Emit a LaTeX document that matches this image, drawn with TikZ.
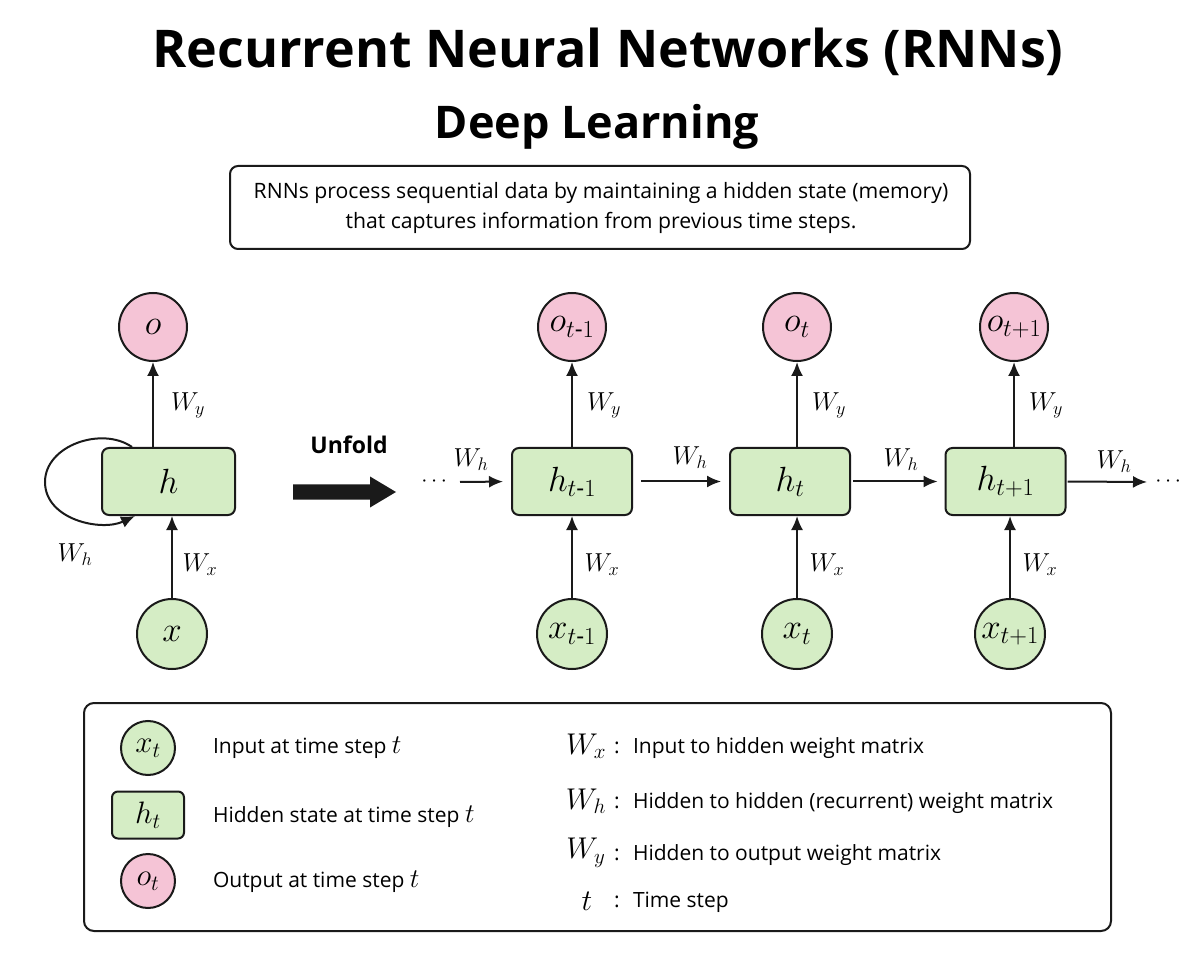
\RequirePackage{fix-cm}
\documentclass[tikz,border=0pt]{standalone}
\usepackage{amsmath}
\usepackage{fontspec}
\setmainfont{Open Sans}
\usetikzlibrary{arrows.meta,calc}
\definecolor{gfill}{HTML}{D5EDC5}
\definecolor{pfill}{HTML}{F5C4D6}
\definecolor{ink}{HTML}{1A1A1A}
\begin{document}
\begin{tikzpicture}[x=1pt,y=-1pt,
  line width=2pt,
  cellbox/.style={draw=ink,fill=gfill,rounded corners=7pt,minimum width=120pt,minimum height=67pt,inner sep=0pt,font=\fontsize{35}{40}\selectfont},
  incirc/.style={circle,draw=ink,fill=gfill,minimum size=70pt,inner sep=0pt,font=\fontsize{35}{40}\selectfont},
  outcirc/.style={circle,draw=ink,fill=pfill,minimum size=68pt,inner sep=0pt,font=\fontsize{35}{40}\selectfont},
  wlab/.style={font=\fontsize{26}{30}\selectfont,inner sep=0pt},
  conn/.style={draw=ink,-{Latex[length=14pt,width=12pt]}},
  legtext/.style={anchor=west,font=\fontsize{21}{25}\selectfont,inner sep=0pt},
  legmath/.style={font=\fontsize{30}{34}\selectfont,inner sep=0pt},
  dots/.style={font=\fontsize{22}{26}\selectfont,inner sep=0pt}
]
\useasboundingbox (0,0) rectangle (1200,957);
\fill[white] (0,0) rectangle (1200,957);

% titles
\node[font=\fontsize{52}{62}\bfseries\selectfont] (title) at (608,52) {Recurrent Neural Networks (RNNs)};
\node[font=\fontsize{45}{54}\bfseries\selectfont] (subtitle) at (597,127) {Deep Learning};

% description
\node[draw=ink,rounded corners=8pt,minimum width=740pt,minimum height=83pt,inner sep=0pt] (desc) at (600,207.5) {};
\node[font=\fontsize{21.2}{30}\selectfont,align=center] (desctext) at (601,208) {RNNs process sequential data by maintaining a hidden state (memory)\\that captures information from previous time steps.};

% folded RNN
\node[cellbox,minimum width=133pt] (h) at (168.5,481.5) {$h$};
\node[outcirc] (o) at (153,327) {$o$};
\node[incirc] (x) at (172,634) {$x$};
\draw[conn] (h.north -| o.south) -- (o.south);
\draw[conn] (x.north) -- (x.north |- h.south);
\coordinate (loopa) at ($(h.north west)+(31,0)$);
\coordinate (loopb) at ($(h.south west)+(34,0)$);
\draw[conn] (loopa) to[out=145,in=90] (45,482) to[out=-90,in=205] (loopb);
\node[wlab] (wyf) at (188,405) {$W_y$};
\node[wlab] (wxf) at (200,565) {$W_x$};
\node[wlab] (whf) at (75,555) {$W_h$};

% unfold arrow
\node[font=\fontsize{23}{27}\bfseries\selectfont] (unfold) at (349,445) {Unfold};
\fill[ink] (293,484.5) -- (370,484.5) -- (370,476.5) -- (396,492) -- (370,507.5) -- (370,499.5) -- (293,499.5) -- cycle;

% unfolded
\node[cellbox] (h1) at (572,481.5) {$h_{t\text{-}1}$};
\node[cellbox] (h2) at (790,481.5) {$h_t$};
\node[cellbox] (h3) at (1005.5,481.5) {$h_{t+1}$};
\node[outcirc] (o1) at (572,327) {$o_{t\text{-}1}$};
\node[outcirc] (o2) at (797,327) {$o_t$};
\node[outcirc] (o3) at (1014,327) {$o_{t+1}$};
\node[incirc] (x1) at (572,634) {$x_{t\text{-}1}$};
\node[incirc] (x2) at (797,634) {$x_t$};
\node[incirc] (x3) at (1010,634) {$x_{t+1}$};

\foreach \i in {1,2,3}{
  \draw[conn] (h\i.north -| o\i.south) -- (o\i.south);
  \draw[conn] (x\i.north) -- (x\i.north |- h\i.south);
}
\node[wlab] (wy1) at (604,405) {$W_y$};
\node[wlab] (wy2) at (829,405) {$W_y$};
\node[wlab] (wy3) at (1046,405) {$W_y$};
\node[wlab] (wx1) at (602,565) {$W_x$};
\node[wlab] (wx2) at (827,565) {$W_x$};
\node[wlab] (wx3) at (1040,565) {$W_x$};

\node[dots] (dl) at (436,482) {$\cdots$};
\coordinate (inl) at (460,482);
\coordinate (outr) at (1147,482);
\node[dots] (dr) at (1170,482) {$\cdots$};
\draw[conn,shorten >=8pt] (inl) -- (h1.west);
\draw[conn,shorten <=8pt,shorten >=8pt] (h1.east) -- (h2.west);
\draw[conn,shorten <=2pt,shorten >=7pt] (h2.east) -- (h3.west);
\draw[conn,shorten <=1pt] (h3.east) -- (outr);
\node[wlab] (wh0) at (471,460) {$W_h$};
\node[wlab] (wh1) at (690,458) {$W_h$};
\node[wlab] (wh2) at (901,460) {$W_h$};
\node[wlab] (wh3) at (1114,462) {$W_h$};

% legend
\node[draw=ink,rounded corners=10pt,minimum width=1027pt,minimum height=228pt,inner sep=0pt] (legend) at (597.5,817) {};
\node[incirc,minimum size=54pt,font=\fontsize{31}{36}\selectfont] (lx) at (148,748) {$x_t$};
\node[cellbox,minimum width=72pt,minimum height=47pt,rounded corners=6pt,font=\fontsize{31}{36}\selectfont] (lh) at (148,815) {$h_t$};
\node[outcirc,minimum size=54pt,font=\fontsize{31}{36}\selectfont] (lo) at (148,881) {$o_t$};
\node[legtext] (tx) at (212,748) {Input at time step \fontsize{27}{30}\selectfont$t$};
\node[legtext] (th) at (212,817) {Hidden state at time step \fontsize{27}{30}\selectfont$t$};
\node[legtext] (to) at (212,882) {Output at time step \fontsize{27}{30}\selectfont$t$};

\node[legmath] (lwx) at (586,746) {$W_x$};
\node[legmath] (lwh) at (586,801) {$W_h$};
\node[legmath] (lwy) at (586,853) {$W_y$};
\node[legmath] (lt) at (587,901) {$t$};
\foreach \n/\yy in {c1/748,c2/803,c3/855,c4/902}{
  \node[legtext,anchor=center] (\n) at (617,\yy) {:};
}
\node[legtext] (dx) at (632,748) {Input to hidden weight matrix};
\node[legtext] (dh) at (632,803) {Hidden to hidden (recurrent) weight matrix};
\node[legtext] (dy) at (632,855) {Hidden to output weight matrix};
\node[legtext] (dt) at (632,902) {Time step};
\end{tikzpicture}
\end{document}
